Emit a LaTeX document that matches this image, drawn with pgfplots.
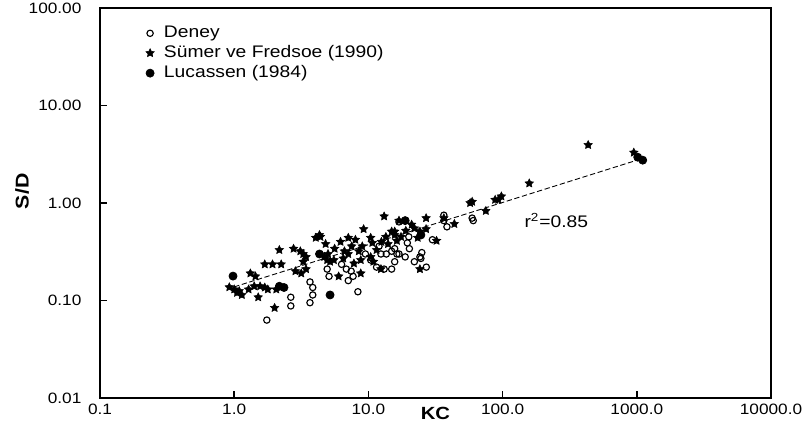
\documentclass[border=0pt]{standalone}
\usepackage{fontspec}
\setmainfont{Liberation Sans}[FakeStretch=1.15]
\usepackage{pgfplots}
\pgfplotsset{compat=1.18}
\newlength{\px}\setlength{\px}{0.567pt}

\pgfdeclareplotmark{fstar}{%
  \pgfpathmoveto{\pgfpointpolar{90}{\pgfplotmarksize}}%
  \pgfpathlineto{\pgfpointpolar{126}{0.5\pgfplotmarksize}}%
  \pgfpathlineto{\pgfpointpolar{162}{\pgfplotmarksize}}%
  \pgfpathlineto{\pgfpointpolar{198}{0.5\pgfplotmarksize}}%
  \pgfpathlineto{\pgfpointpolar{234}{\pgfplotmarksize}}%
  \pgfpathlineto{\pgfpointpolar{270}{0.5\pgfplotmarksize}}%
  \pgfpathlineto{\pgfpointpolar{306}{\pgfplotmarksize}}%
  \pgfpathlineto{\pgfpointpolar{342}{0.5\pgfplotmarksize}}%
  \pgfpathlineto{\pgfpointpolar{18}{\pgfplotmarksize}}%
  \pgfpathlineto{\pgfpointpolar{54}{0.5\pgfplotmarksize}}%
  \pgfpathclose
  \pgfusepathqfillstroke
}

\begin{document}
\begin{tikzpicture}
\begin{axis}[
  name=ax,
  scale only axis,
  width=671\px, height=390\px,
  xmode=log, ymode=log,
  xmin=0.1, xmax=10000, ymin=0.01, ymax=100,
  xtick={0.1,1,10,100,1000,10000},
  xticklabels={0.1,1.0,10.0,100.0,1000.0,10000.0},
  ytick={0.01,0.1,1,10,100},
  yticklabels={0.01,0.10,1.00,10.00,100.00},
  xminorticks=false, yminorticks=false,
  tick align=inside,
  xtick pos=bottom, ytick pos=left,
  major tick length=7\px,
  axis line style={line width=0.9pt},
  tick style={line width=0.8pt, black},
  /pgf/number format/assume math mode=true,
  tick label style={font=\fontsize{8.5}{10}\selectfont},
  yticklabel style={xshift=-7pt},
  xlabel={KC}, ylabel={S/D},
  xlabel style={at={(rel axis cs:0.5,-0.04)}, anchor=center, font=\bfseries\fontsize{10}{12}\selectfont},
  ylabel style={at={(rel axis cs:-0.116,0.53)}, anchor=center, font=\bfseries\fontsize{10.5}{12}\selectfont},
  legend style={at={(rel axis cs:0.06,0.97)}, anchor=north west, draw=none, fill=none,
    font=\fontsize{9.5}{11}\selectfont, row sep=0pt, column sep=4pt, nodes={inner sep=1.5pt}},
  legend cell align=left,
  clip=false,
]
\addplot[only marks, mark=o, mark size=1.8pt, mark options={fill=white, draw=black, line width=0.65pt}] coordinates {
(1.75,0.063) (2.64,0.108) (2.64,0.088) (3.67,0.155) (3.85,0.136) (3.85,0.114)
(3.67,0.095) (4.93,0.21) (5.09,0.177) (6.31,0.235) (6.85,0.21) (7.44,0.20)
(7.08,0.16) (7.69,0.177) (8.35,0.123) (10.4,0.26) (11.5,0.22) (12.4,0.30)
(13.6,0.30) (14.9,0.32) (16.3,0.30) (13.1,0.21) (14.9,0.21) (15.7,0.34)
(15.7,0.25) (16.9,0.30) (16.9,0.64) (18.8,0.28) (19.5,0.39) (20.2,0.34)
(22,0.25) (24.2,0.28) (24.6,0.27) (25,0.31) (27,0.22) (9.5,0.30) (12,0.36)
(20,0.45) (30,0.42) (36.5,0.75) (36.5,0.66) (38.5,0.57) (59.3,0.70) (60.4,0.66)
};
\addlegendentry{Deney}
\addplot[only marks, mark=fstar, mark size=2.5pt, mark options={fill=black, draw=black, line width=0.3pt}] coordinates {
(0.92,0.137) (1.0,0.13) (1.05,0.12) (1.09,0.125) (1.14,0.114) (1.28,0.13)
(1.32,0.19) (1.41,0.14) (1.44,0.177) (1.51,0.108) (1.56,0.14) (1.69,0.136)
(1.69,0.235) (1.78,0.13) (1.93,0.235) (2.0,0.084) (2.06,0.13) (2.17,0.33)
(2.24,0.235) (2.77,0.34) (2.86,0.20) (3.11,0.32) (3.16,0.19) (3.27,0.30)
(3.27,0.25) (3.43,0.28) (3.43,0.21) (4.05,0.44) (4.32,0.47) (4.39,0.45)
(4.69,0.28) (4.8,0.38) (4.93,0.26) (5.0,0.30) (5.18,0.25) (5.53,0.26)
(5.6,0.34) (6.0,0.177) (6.2,0.40) (6.5,0.27) (6.63,0.32) (7.08,0.30)
(7.08,0.44) (7.5,0.36) (7.8,0.24) (8.0,0.42) (8.48,0.32) (8.77,0.26)
(8.77,0.19) (9.0,0.36) (9.21,0.54) (10.4,0.28) (10.4,0.44) (10.7,0.39)
(10.9,0.25) (11.5,0.33) (12.4,0.21) (12.5,0.40) (13.1,0.73) (13.5,0.45)
(14,0.38) (14.9,0.51) (15.7,0.47) (15.7,0.51) (16.3,0.41) (16.9,0.66)
(17.5,0.45) (19,0.52) (21,0.60) (22,0.55) (23.3,0.44) (24.2,0.51)
(24.2,0.21) (26.9,0.70) (26.9,0.54) (32.2,0.41) (36.5,0.70) (43.7,0.61)
(57.3,1.0) (59.3,1.03) (75,0.83) (88,1.08) (93,1.08) (98,1.17) (158,1.59)
(434,3.94) (950,3.29)
};
\addlegendentry{Sümer ve Fredsoe (1990)}
\addplot[only marks, mark=*, mark size=2.3pt, mark options={fill=black, draw=black}] coordinates {
(0.98,0.178) (2.17,0.14) (2.35,0.136) (4.32,0.30) (5.18,0.114) (18.8,0.66)
(24.6,0.47) (1016,2.95) (1107,2.75)
};
\addlegendentry{Lucassen (1984)}
\addplot[forget plot, black, line width=0.5pt, dash pattern=on 3pt off 1.5pt] coordinates {
(1,0.138) (1100,2.86)
};
\node[font=\fontsize{9.5}{11}\selectfont] at (rel axis cs:0.68,0.455) {r\textsuperscript{2}=0.85};
\end{axis}
\pgfresetboundingbox
\path ([shift={(-100\px,-25\px)}]ax.south west) rectangle ([shift={(32\px,8\px)}]ax.north east);
\end{tikzpicture}
\end{document}
